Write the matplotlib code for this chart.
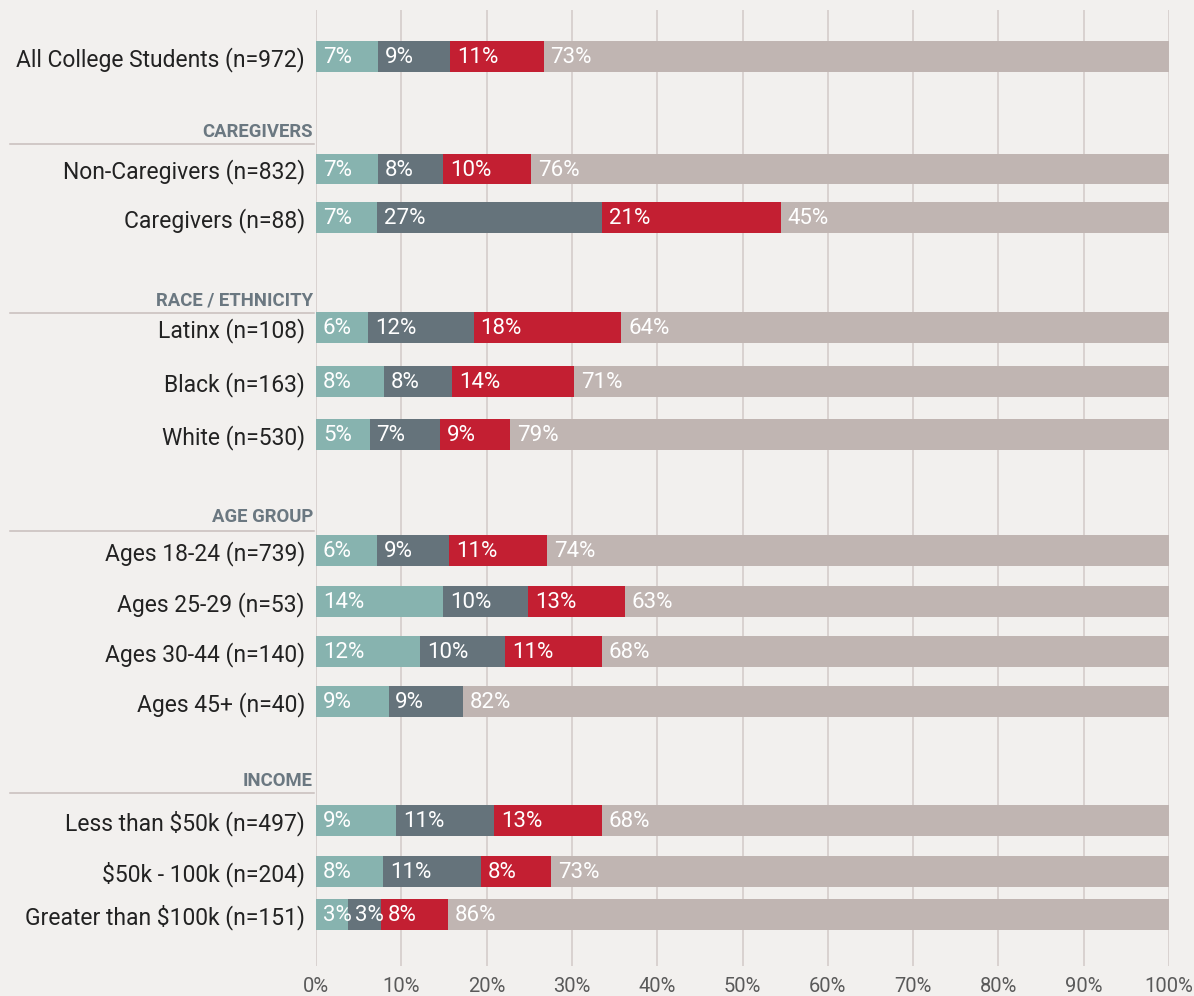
import matplotlib
matplotlib.use('Agg')
import matplotlib.pyplot as plt
from matplotlib import font_manager

# fonts: a condensed face for the numbers if one is installed
installed = {f.name for f in font_manager.fontManager.ttflist}
narrow = 'Liberation Sans Narrow' if 'Liberation Sans Narrow' in installed else 'Roboto'
plain = 'Roboto'

rows = ["All College Students (n=972)",
        "Non-Caregivers (n=832)", "Caregivers (n=88)",
        "Latinx (n=108)", "Black (n=163)", "White (n=530)",
        "Ages 18-24 (n=739)", "Ages 25-29 (n=53)", "Ages 30-44 (n=140)", "Ages 45+ (n=40)",
        "Less than $50k (n=497)", "$50k - 100k (n=204)", "Greater than $100k (n=151)"]

# segment widths (%) as drawn
teal = [7.3, 7.3, 7.2, 6.1, 8.0, 6.3, 7.1, 14.9, 12.2, 8.5, 9.4, 7.9, 3.8]
slate = [8.4, 7.6, 26.3, 12.4, 8.0, 8.2, 8.5, 10.0, 10.0, 8.7, 11.5, 11.4, 3.8]
red = [11.0, 10.3, 21.0, 17.3, 14.3, 8.3, 11.5, 11.3, 11.3, 0.0, 12.6, 8.3, 7.9]
taupe = [73.3, 74.8, 45.5, 64.2, 69.7, 77.2, 72.9, 63.8, 66.5, 82.8, 66.5, 72.4, 84.5]

# labels printed on the bars
teal_lbl = [7, 7, 7, 6, 8, 5, 6, 14, 12, 9, 9, 8, 3]
slate_lbl = [9, 8, 27, 12, 8, 7, 9, 10, 10, 9, 11, 11, 3]
red_lbl = [11, 10, 21, 18, 14, 9, 11, 13, 11, None, 13, 8, 8]
taupe_lbl = [73, 76, 45, 64, 71, 79, 74, 63, 68, 82, 68, 73, 86]

headers = ["CAREGIVERS", "RACE / ETHNICITY", "AGE GROUP", "INCOME"]

# layout (pixel rows of the original page)
row_y = [56.3, 169, 217.5, 327.3, 381.3, 434.3, 550.5, 601.3, 651.3, 701.3, 820.3, 871.3, 914.7]
header_y = [131.7, 300, 517, 780.7]
rule_y = [144.3, 313.3, 530.7, 793.3]
bar_h = 30.7

bg = '#f2f0ee'
colors = ['#87b3af', '#65737b', '#c31f32', '#c0b5b2']

fig = plt.figure(figsize=(11.94, 9.96), dpi=100, facecolor=bg)
ax = fig.add_axes([316 / 1194, 30 / 996, 853 / 1194, 956 / 996])
ax.set_facecolor(bg)
ax.set_xlim(0, 100)
ax.set_ylim(966, 10)

series = [teal, slate, red, taupe]
labels = [teal_lbl, slate_lbl, red_lbl, taupe_lbl]
left = [0.0] * len(rows)
for vals, lbls, col in zip(series, labels, colors):
    ax.barh(row_y, vals, left=left, height=bar_h, color=col, zorder=2)
    for y, l, v, t in zip(row_y, left, vals, lbls):
        if t is None or v == 0:
            continue
        ax.text(l + 0.8, y + 1, f"{t}%", color='white', fontsize=16,
                family=narrow, ha='left', va='center', zorder=3)
    left = [a + b for a, b in zip(left, vals)]

ax.set_xticks(range(0, 101, 10))
ax.set_xticklabels([f"{v}%" for v in range(0, 101, 10)], family=narrow,
                   fontsize=14.5, color='#5a5a5a')
ax.set_yticks(row_y)
ax.set_yticklabels(rows, family=plain, fontsize=16.5, color='#222222')
ax.tick_params(axis='x', length=0, pad=8)
ax.tick_params(axis='y', length=0, pad=8)
ax.grid(axis='x', color='#d2cac8', linewidth=1.1, zorder=0)
ax.grid(axis='y', visible=False)
for s in ax.spines.values():
    s.set_visible(False)

for name, hy, ry in zip(headers, header_y, rule_y):
    ax.text(-0.35, hy, name, ha='right', va='center', family=plain,
            fontweight='bold', fontsize=13.3, color='#6b7881', clip_on=False)
    ax.plot([-35.9, -0.25], [ry, ry], color='#c8bebc', linewidth=1.1, clip_on=False)

fig.savefig('out.png', dpi=100, facecolor=bg)
